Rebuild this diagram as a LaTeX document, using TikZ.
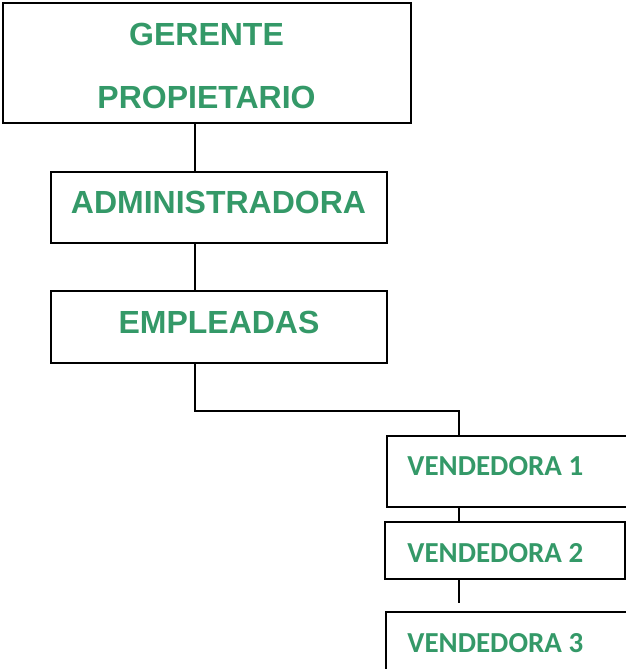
\documentclass[tikz,border=0pt]{standalone}
\usepackage{fontspec}
\newfontfamily\arialb{Liberation Sans}
\newfontfamily\calib{Carlito}
\definecolor{verde}{RGB}{52,153,104}
\tikzset{
  caja/.style={draw, line width=1pt, rectangle, inner sep=0pt},
  titulo/.style={anchor=base, text=verde, font=\arialb\bfseries\fontsize{16}{19}\selectfont, inner sep=0pt},
  vende/.style={anchor=base west, text=verde, font=\calib\bfseries\fontsize{14.5}{17}\selectfont, inner sep=0pt},
  linea/.style={line width=1pt}
}
\begin{document}
\begin{tikzpicture}[x=0.5pt, y=0.5pt]
\useasboundingbox (0,0) rectangle (626,-669);

% Boxes of the chart
\node[caja, minimum width=204pt, minimum height=60pt] (ger) at (207,-63) {};
\node[titulo] (gert1) at (206.5,-46) {GERENTE};
\node[titulo] (gert2) at (206.5,-108) {PROPIETARIO};
\node[caja, minimum width=168pt, minimum height=35.5pt] (adm) at (219,-207.5) {};
\node[titulo] (admt) at (218.5,-213) {ADMINISTRADORA};
\node[caja, minimum width=168pt, minimum height=36pt] (emp) at (219,-327) {};
\node[titulo] (empt) at (219,-333) {EMPLEADAS};

% Sellers
\node[caja, minimum width=126.5pt, minimum height=35.5pt] (v1) at (513.5,-471.5) {};
\node[vende] (v1t) at (407,-475) {VENDEDORA 1};
\node[caja, minimum width=120pt, minimum height=28.5pt] (v2) at (505,-550.5) {};
\node[vende] (v2t) at (407,-562) {VENDEDORA 2};
\node[caja, minimum width=127pt, minimum height=34pt] (v3) at (513,-646) {};
\node[vende] (v3t) at (407,-652) {VENDEDORA 3};

% Connectors
\coordinate (eje) at (195,0);
\coordinate (codo) at (459,-411);
\coordinate (fin) at (459,-603);
\draw[linea] (ger.south -| eje) -- (adm.north -| eje);
\draw[linea] (adm.south -| eje) -- (emp.north -| eje);
\draw[linea] (emp.south -| eje) |- (codo) -- (v1.north -| codo);
\draw[linea] (v1.south -| codo) -- (v2.north -| codo);
\draw[linea] (v2.south -| codo) -- (fin);
\end{tikzpicture}
\end{document}
